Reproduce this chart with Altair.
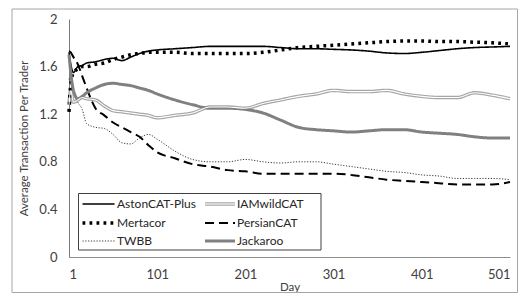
import altair as alt
import pandas as pd

days = [1, 3, 6, 11, 16, 21, 31, 41, 51, 61, 71, 81, 91, 101, 121, 141, 161, 181, 201,
        221, 241, 261, 281, 301, 321, 341, 361, 381, 401, 421, 441, 461, 481, 501]

aston = [1.72, 1.62, 1.55, 1.60, 1.61, 1.63, 1.64, 1.66, 1.67, 1.65, 1.68, 1.71, 1.73, 1.74,
         1.75, 1.76, 1.77, 1.77, 1.77, 1.77, 1.76, 1.75, 1.75, 1.745, 1.74, 1.73, 1.715,
         1.71, 1.72, 1.735, 1.75, 1.76, 1.765, 1.77]
mertacor = [1.22, 1.45, 1.55, 1.58, 1.60, 1.60, 1.62, 1.63, 1.66, 1.68, 1.70, 1.71, 1.72, 1.72,
            1.72, 1.71, 1.71, 1.71, 1.71, 1.72, 1.74, 1.76, 1.77, 1.78, 1.79, 1.80, 1.81,
            1.815, 1.815, 1.81, 1.81, 1.805, 1.80, 1.79]
twbb = [1.50, 1.45, 1.38, 1.30, 1.24, 1.12, 1.09, 1.08, 1.03, 0.96, 0.95, 1.00, 1.03, 0.99,
        0.89, 0.82, 0.80, 0.80, 0.82, 0.80, 0.79, 0.80, 0.80, 0.78, 0.76, 0.74, 0.72, 0.71,
        0.69, 0.68, 0.66, 0.66, 0.66, 0.65]
iamwild = [1.28, 1.40, 1.30, 1.32, 1.34, 1.33, 1.32, 1.27, 1.23, 1.22, 1.21, 1.20, 1.19, 1.17,
           1.19, 1.21, 1.26, 1.26, 1.25, 1.29, 1.32, 1.35, 1.37, 1.40, 1.39, 1.39, 1.40, 1.37,
           1.35, 1.34, 1.34, 1.38, 1.36, 1.33]
persian = [1.73, 1.72, 1.68, 1.62, 1.52, 1.42, 1.25, 1.19, 1.13, 1.09, 1.05, 1.01, 0.94, 0.88,
           0.83, 0.78, 0.76, 0.73, 0.72, 0.70, 0.70, 0.70, 0.70, 0.70, 0.69, 0.67, 0.65, 0.64,
           0.63, 0.62, 0.61, 0.61, 0.61, 0.63]
jackaroo = [1.70, 1.55, 1.40, 1.33, 1.35, 1.38, 1.42, 1.45, 1.46, 1.45, 1.44, 1.42, 1.40, 1.37,
            1.32, 1.28, 1.25, 1.25, 1.24, 1.21, 1.15, 1.09, 1.07, 1.06, 1.05, 1.06, 1.07, 1.07,
            1.05, 1.04, 1.03, 1.01, 1.00, 1.00]

series_names = ["AstonCAT-Plus", "IAMwildCAT", "Mertacor", "PersianCAT", "TWBB", "Jackaroo"]
series_values = [aston, iamwild, mertacor, persian, twbb, jackaroo]
x_ticks = [1, 101, 201, 301, 401, 501]
y_ticks = [0, 0.2, 0.4, 0.6, 0.8, 1, 1.2, 1.4, 1.6, 1.8, 2]

rows = []
for name, vals in zip(series_names, series_values):
    for d, v in zip(days, vals):
        rows.append({"Day": d, "value": v, "series": name})
df = pd.DataFrame(rows)

W, H = 441, 238
FONT = "Lato"

colors = ["#000000", "#a6a6a6", "#000000", "#000000", "#3a3a3a", "#808080"]
dashes = [[1, 0], [1, 0], [2.8, 4.2], [9, 5], [1.2, 1.6], [1, 0]]
widths = [1.6, 3.5, 3.5, 2, 1, 3]

color_scale = alt.Scale(domain=series_names, range=colors)
dash_scale = alt.Scale(domain=series_names, range=dashes)
width_scale = alt.Scale(type="ordinal", domain=series_names, range=widths)

# legend layout (3 rows x 2 columns, inside plot area)
leg_row_y = [185, 204, 222]
leg_col_x = [(13.5, 45.5, 48), (136, 166, 168)]
leg_rows = []
for i, name in enumerate(series_names):
    r, c = i // 2, i % 2
    x1, x2, tx = leg_col_x[c]
    leg_rows.append({"series": name, "x1": x1, "x2": x2, "tx": tx, "ly": leg_row_y[r]})
leg_df = pd.DataFrame(leg_rows)

x_enc = alt.X("Day:Q", scale=alt.Scale(domain=[1, 501], nice=False, zero=False),
              axis=alt.Axis(values=x_ticks, title="Day", ticks=False, grid=False,
                            labelPadding=11, titlePadding=0, domainColor="#8c8c8c"))
y_enc = alt.Y("value:Q", scale=alt.Scale(domain=[0, 2], nice=False),
              axis=alt.Axis(values=y_ticks, format=".1~f",
                            title="Average Transaction Per Trader", ticks=False, grid=False,
                            labelPadding=12, titlePadding=9, domainColor="#7a7a7a"))

lines = alt.Chart(df).mark_line(interpolate="monotone").encode(
    x=x_enc, y=y_enc,
    color=alt.Color("series:N", scale=color_scale, legend=None),
    strokeDash=alt.StrokeDash("series:N", scale=dash_scale, legend=None),
    strokeWidth=alt.StrokeWidth("series:N", scale=width_scale, legend=None),
    detail="series:N",
)

inner = alt.Chart(df[df.series == "IAMwildCAT"]).mark_line(
    interpolate="monotone", color="white", strokeWidth=1.1
).encode(x="Day:Q", y="value:Q")

frame = alt.Chart(pd.DataFrame({"a": [0]})).mark_rect(
    fill=None, stroke="#a6a6a6", strokeWidth=1
).encode(x=alt.value(-57), x2=alt.value(448.5), y=alt.value(-10), y2=alt.value(273.5))

leg_box = alt.Chart(pd.DataFrame({"a": [0]})).mark_rect(
    fill="white", stroke="#404040", strokeWidth=1
).encode(x=alt.value(9.5), x2=alt.value(252), y=alt.value(174.5), y2=alt.value(231))

leg_sym = alt.Chart(leg_df).mark_rule().encode(
    x=alt.X("x1:Q", scale=None), x2="x2:Q", y=alt.Y("ly:Q", scale=None),
    color=alt.Color("series:N", scale=color_scale, legend=None),
    strokeDash=alt.StrokeDash("series:N", scale=dash_scale, legend=None),
    strokeWidth=alt.StrokeWidth("series:N", scale=width_scale, legend=None),
)
leg_inner = alt.Chart(leg_df[leg_df.series == "IAMwildCAT"]).mark_rule(
    color="white", strokeWidth=1.1
).encode(x=alt.X("x1:Q", scale=None), x2="x2:Q", y=alt.Y("ly:Q", scale=None))

leg_txt = alt.Chart(leg_df).mark_text(
    align="left", baseline="middle", font=FONT, fontSize=12, color="#262626"
).encode(x=alt.X("tx:Q", scale=None), y=alt.Y("ly:Q", scale=None), text="series:N")

chart = alt.layer(frame, lines, inner, leg_box, leg_sym, leg_inner, leg_txt).properties(
    width=W, height=H,
    autosize=alt.AutoSizeParams(type="none"),
    padding={"left": 61, "top": 11, "right": 8, "bottom": 36},
).configure_view(stroke=None).configure_axis(
    labelFont=FONT, titleFont=FONT, labelFontSize=13, titleFontSize=11.5,
    labelColor="#404040", titleColor="#404040", titleFontWeight="normal",
)

chart.save("out.html", embed_options={"renderer": "svg", "actions": False})
